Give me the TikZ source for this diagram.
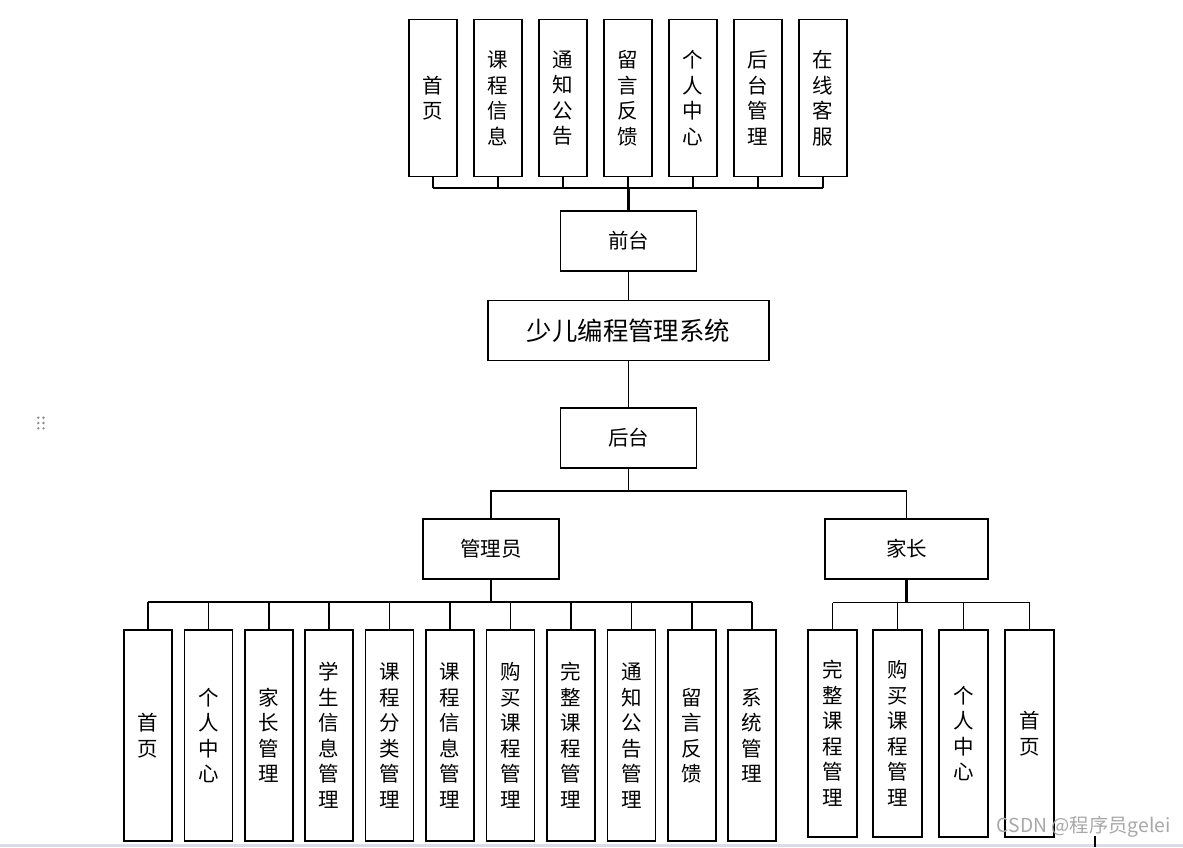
\documentclass[tikz,border=0pt]{standalone}
\usepackage{fontspec}
\newfontfamily\cjk{Noto Sans CJK SC}
\definecolor{wm}{HTML}{A8A8A8}
\definecolor{band}{HTML}{DCDCE6}
\definecolor{dots}{HTML}{8A8A8A}
\begin{document}
\begin{tikzpicture}[x=1pt,y=-1pt,
  line width=1.7pt,
  box/.style={draw, line width=1.7pt, inner sep=0pt, align=center, font=\cjk\fontsize{20.5}{25.5}\selectfont},
  topbox/.style={box, minimum width=48pt, minimum height=157pt},
  abox/.style={box, minimum width=48pt, minimum height=211pt},
  pbox/.style={box, minimum width=49pt, minimum height=207pt},
  hbox/.style={box, minimum width=136pt, minimum height=60pt},
]
\useasboundingbox (0,0) rectangle (1183,847);
\fill[white] (0,0) rectangle (1183,847);
\fill[band] (0,843.5) rectangle (1183,847);

% top row
\node[topbox] (t1) at (433,98) {首\\页};
\node[topbox] (t2) at (498,98) {课\\程\\信\\息};
\node[topbox] (t3) at (563,98) {通\\知\\公\\告};
\node[topbox] (t4) at (628,98) {留\\言\\反\\馈};
\node[topbox] (t5) at (693,98) {个\\人\\中\\心};
\node[topbox] (t6) at (758,98) {后\\台\\管\\理};
\node[topbox] (t7) at (823,98) {在\\线\\客\\服};

\node[hbox] (qt) at (628.5,241) {前台};
\node[box, minimum width=281pt, minimum height=60pt, font=\cjk\fontsize{25.4}{28}\selectfont] (main) at (628.5,330.5) {少儿编程管理系统};
\node[hbox] (ht) at (628.5,438) {后台};
\node[hbox] (gly) at (491,549) {管理员};
\node[box, minimum width=163pt, minimum height=60pt] (jz) at (906.5,549) {家长};

% admin children
\node[abox] (a1) at (148,735.5) {首\\页};
\node[abox] (a2) at (208.5,735.5) {个\\人\\中\\心};
\node[abox] (a3) at (269,735.5) {家\\长\\管\\理};
\node[abox] (a4) at (329,735.5) {学\\生\\信\\息\\管\\理};
\node[abox] (a5) at (389.5,735.5) {课\\程\\分\\类\\管\\理};
\node[abox] (a6) at (450,735.5) {课\\程\\信\\息\\管\\理};
\node[abox] (a7) at (510.5,735.5) {购\\买\\课\\程\\管\\理};
\node[abox] (a8) at (571,735.5) {完\\整\\课\\程\\管\\理};
\node[abox] (a9) at (631.5,735.5) {通\\知\\公\\告\\管\\理};
\node[abox] (a10) at (692,735.5) {留\\言\\反\\馈};
\node[abox] (a11) at (752,735.5) {系\\统\\管\\理};

% parent children
\node[pbox] (p1) at (832.5,733.5) {完\\整\\课\\程\\管\\理};
\node[pbox] (p2) at (897.5,733.5) {购\\买\\课\\程\\管\\理};
\node[pbox] (p3) at (963.5,733.5) {个\\人\\中\\心};
\node[pbox] (p4) at (1029.5,733.5) {首\\页};

% connectors top
\coordinate (busT) at (628.5,188);
\foreach \i in {1,...,7} \draw (t\i.south) -- (t\i.south |- busT);
\draw (t1.south |- busT) -- (t7.south |- busT);
\draw[line width=2.8pt] (busT) -- (qt.north);
\draw (qt.south) -- (main.north);
\draw (main.south) -- (ht.north);

% back office bus
\coordinate (busH) at (628.5,491);
\draw (ht.south) -- (busH);
\draw (gly.north) -- (gly.north |- busH) -- (jz.north |- busH) -- (jz.north);

% admin bus
\coordinate (busA) at (491,602);
\draw (gly.south) -- (busA);
\foreach \i in {1,...,11} \draw (a\i.north) -- (a\i.north |- busA);
\draw (a1.north |- busA) -- (a11.north |- busA);

% parent bus
\coordinate (busP) at (906.5,602.5);
\draw[line width=2.6pt] (jz.south) -- (busP);
\foreach \i in {1,...,4} \draw (p\i.north) -- (p\i.north |- busP);
\draw (p1.north |- busP) -- (p4.north |- busP);

% drag handle dots
\foreach \dx in {38.3,43.5} \foreach \dy in {417.7,423,428.3}
  \fill[dots] (\dx,\dy) circle (1.3);

% watermark and small tick
\node[text=wm, font=\cjk\fontsize{19.3}{22}\selectfont, inner sep=0pt, anchor=west] (wmk) at (996,827) {CSDN @程序员gelei};
\coordinate (tk1) at (1095,836);
\coordinate (tk2) at (1095,847);
\draw[line width=1.6pt] (tk1) -- (tk2);
\end{tikzpicture}
\end{document}
